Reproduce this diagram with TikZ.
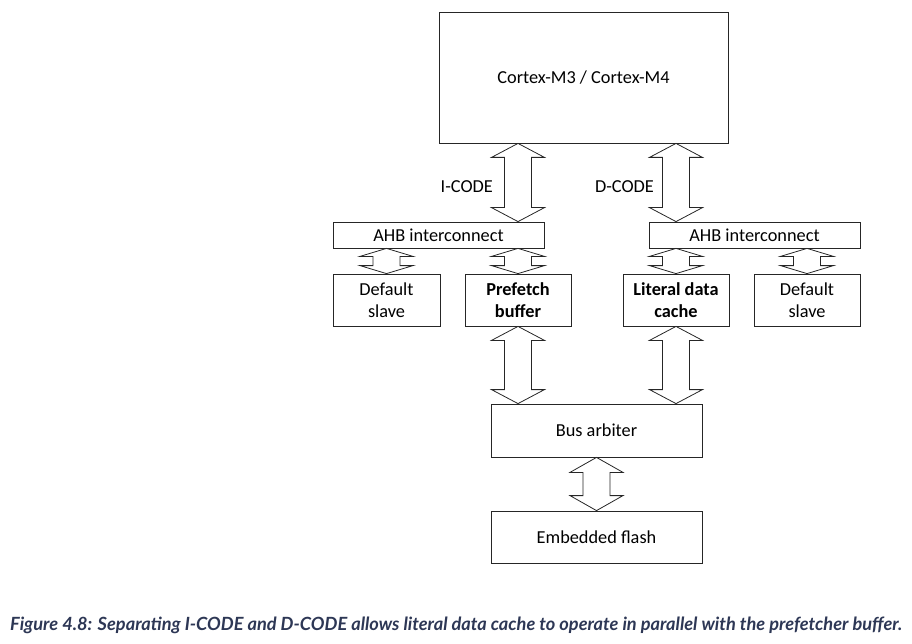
\documentclass[tikz,border=0pt]{standalone}
\usepackage{fontspec}
\setmainfont{Carlito}
\newfontfamily\capfont{Lato}
\usepackage{xcolor}
\usepackage{tikz}
\usetikzlibrary{arrows.meta,calc}
\usetikzlibrary{positioning,shapes,arrows}
\definecolor{capblue}{RGB}{45,55,85}

\begin{document}
\begin{tikzpicture}[
    x=1pt, y=-1pt,
    blk/.style={draw=black!85, line width=0.8pt, inner sep=0pt, align=center,
                font=\fontsize{18.3}{22}\selectfont},
    bus/.style={draw=black!85, line width=0.8pt, line join=miter},
    lbl/.style={font=\fontsize{18.3}{22}\selectfont, inner sep=0pt}
]

% 그림 크기 고정
\path[use as bounding box] (0,0) rectangle (912,644);

% 코어
\node[blk, minimum width=289pt, minimum height=131pt] (cortex) at (583.5,77.5) {Cortex-M3 / Cortex-M4};

% AHB 버스 매트릭스
\node[blk, minimum width=211pt, minimum height=26pt] (ahbI) at (438.5,235) {AHB interconnect};
\node[blk, minimum width=211pt, minimum height=26pt] (ahbD) at (754.5,235) {AHB interconnect};

% 슬레이브들
\node[blk, minimum width=107pt, minimum height=52pt] (slaveI)   at (386.5,300) {Default\\slave};
\node[blk, minimum width=106pt, minimum height=52pt] (prefetch) at (518,300)   {\bfseries Prefetch\\\bfseries buffer};
\node[blk, minimum width=106pt, minimum height=52pt] (literal)  at (676,300)   {\bfseries Literal data\\\bfseries cache};
\node[blk, minimum width=106pt, minimum height=52pt] (slaveD)   at (807,300)   {Default\\slave};

% 중재기와 플래시
\node[blk, minimum width=211pt, minimum height=53pt] (arbiter) at (596.5,430.5) {Bus arbiter};
\node[blk, minimum width=211pt, minimum height=52pt] (flash)   at (596.5,537)   {Embedded flash};

% 양방향 버스 화살표: #1 위 끝, #2 아래 끝, #3 머리 길이
\def\busarrow#1#2#3{%
  \draw[bus] let \p1=#1, \p2=#2 in
    (\x1,\y1) -- ++(26.5pt,-#3) -- ++(-13pt,0) -- (\x1+13.5pt,\y2+#3)
    -- ++(13pt,0) -- (\x2,\y2) -- ++(-26.5pt,#3) -- ++(13pt,0)
    -- (\x1-13.5pt,\y1-#3) -- ++(-13pt,0) -- cycle;}

\busarrow{(cortex.south -| prefetch.north)}{(ahbI.north -| prefetch.north)}{14pt}
\busarrow{(cortex.south -| literal.north)}{(ahbD.north -| literal.north)}{14pt}
\busarrow{(ahbI.south -| slaveI.north)}{(slaveI.north)}{8pt}
\busarrow{(ahbI.south -| prefetch.north)}{(prefetch.north)}{8pt}
\busarrow{(ahbD.south -| literal.north)}{(literal.north)}{8pt}
\busarrow{(ahbD.south -| slaveD.north)}{(slaveD.north)}{8pt}
\busarrow{(prefetch.south)}{(arbiter.north -| prefetch.south)}{14pt}
\busarrow{(literal.south)}{(arbiter.north -| literal.south)}{14pt}
\busarrow{(arbiter.south)}{(flash.north)}{15pt}

% 버스 이름
\node[lbl, anchor=east] (icode) at ($(cortex.south -| prefetch.north)!0.5!(ahbI.north -| prefetch.north)+(-25,4)$) {I-CODE};
\node[lbl, anchor=east] (dcode) at ($(cortex.south -| literal.north)!0.5!(ahbD.north -| literal.north)+(-22,4)$) {D-CODE};

% 캡션
\node[anchor=west, inner sep=0pt, text=capblue, font=\capfont\bfseries\itshape\fontsize{18.2}{22}\selectfont]
  (caption) at (10,625) {Figure 4.8: Separating I-CODE and D-CODE allows literal data cache to operate in parallel with the prefetcher buffer.};

\end{tikzpicture}
\end{document}
